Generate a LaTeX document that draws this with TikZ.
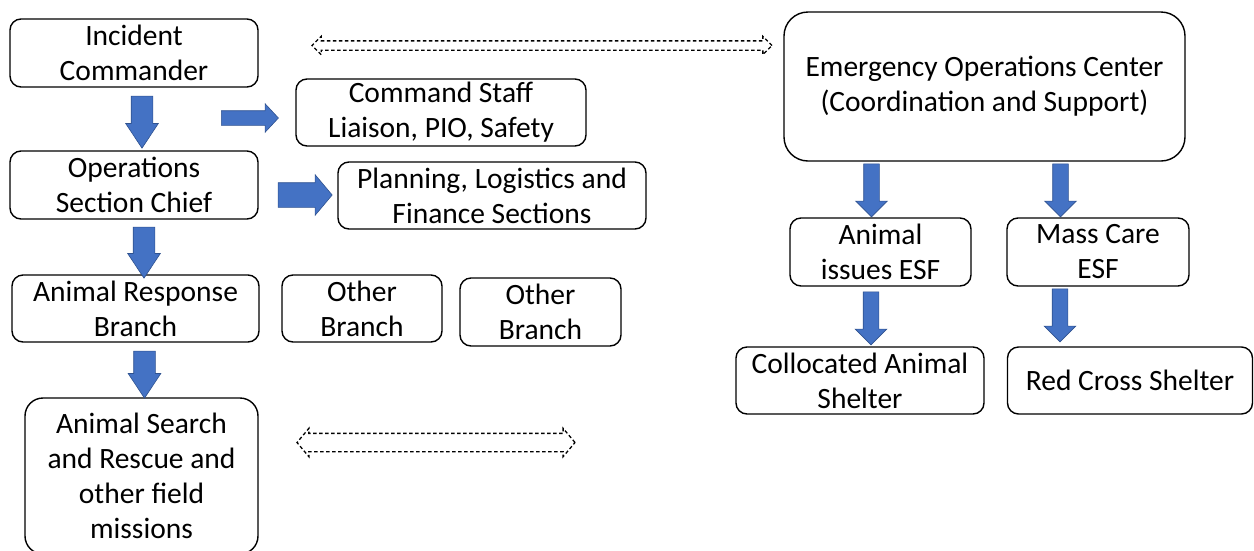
\documentclass[tikz,border=0pt]{standalone}
\usepackage{fontspec}
\setmainfont{Carlito}
\usepackage{tikz}
\usetikzlibrary{shapes,shapes.arrows}
\definecolor{arrowblue}{HTML}{4472C4}
\definecolor{arrowedge}{HTML}{2F528F}

\begin{document}
\begin{tikzpicture}[x=1pt, y=1pt]

\tikzstyle{block} = [rectangle, draw, line width=1.4pt, rounded corners=11pt,
    font=\fontsize{29.5}{35}\selectfont, align=center, inner sep=0pt,
    minimum width=248pt, minimum height=68pt]
\tikzstyle{down} = [single arrow, draw=arrowedge, fill=arrowblue, line width=0.6pt,
    shape border rotate=270, inner sep=10.5pt, minimum width=32pt,
    single arrow head extend=5.5pt, single arrow tip angle=67, single arrow head indent=0pt]
\tikzstyle{esfdown} = [down, inner sep=7.5pt, minimum width=31pt, minimum height=53pt,
    single arrow head extend=8pt, single arrow tip angle=90]
\tikzstyle{right} = [single arrow, draw=arrowedge, fill=arrowblue, line width=0.6pt,
    single arrow head indent=0pt]
\tikzstyle{link} = [double arrow, draw=black, line width=1.3pt,
    dash pattern=on 3.5pt off 2.5pt, double arrow head indent=0pt]

    \useasboundingbox (0,0) rectangle (1254,-550);

    % Left side: incident command
    \node [block] at (134,-53) (ic) {Incident\\Commander};
    \node [block, below of=ic, node distance=132pt] (osc) {Operations\\Section Chief};
    \node [block, below of=osc, node distance=123.5pt, xshift=1.5pt, minimum width=247pt, minimum height=67pt] (arb) {Animal Response\\Branch};
    \node [block, below of=arb, node distance=167.5pt, xshift=6pt, minimum width=233pt, minimum height=156pt, rounded corners=18pt] (asar) {Animal Search\\and Rescue and\\other field\\missions};
    \node [block, right of=ic, node distance=307pt, yshift=-59.5pt, minimum width=290pt, minimum height=67pt] (cstaff) {Command Staff\\Liaison, PIO, Safety};
    \node [block, right of=osc, node distance=358pt, yshift=-10.5pt, minimum width=308pt, minimum height=67pt] (plan) {Planning, Logistics and\\Finance Sections};
    \node [block, right of=arb, node distance=226.5pt, minimum width=160pt, minimum height=67pt] (oth1) {Other\\Branch};
    \node [block, right of=oth1, node distance=178.5pt, yshift=-3.5pt, minimum width=161pt] (oth2) {Other\\Branch};

    % Right side: emergency operations center
    \node [block, minimum width=401pt, minimum height=149pt, rounded corners=24pt] at (984.5,-86.5) (eoc) {Emergency Operations Center\\(Coordination and Support)};
    \node [block, below of=eoc, node distance=165.5pt, xshift=-104pt, minimum width=181pt] (aesf) {Animal\\issues ESF};
    \node [block, right of=aesf, node distance=217.5pt, minimum width=182pt] (mcesf) {Mass Care\\ESF};
    \node [block, below of=aesf, node distance=128.5pt, xshift=-20.5pt, minimum height=67pt] (cas) {Collocated Animal\\Shelter};
    \node [block, right of=cas, node distance=270pt, minimum width=245pt, minimum height=67pt] (rcs) {Red Cross Shelter};

    % Blue arrows
    \node [down, minimum height=52pt] at (142,-114) (icdown) {};
    \node [down, minimum height=51pt] at (144,-244.5) (oscdown) {};
    \node [down, minimum height=47pt] at (144.5,-366.5) (arbdown) {};
    \node [right, minimum height=57pt, minimum width=28pt, inner sep=7pt,
        single arrow head extend=7pt, single arrow tip angle=94] at (246.5,-118) (icright) {};
    \node [right, minimum height=54pt, minimum width=40pt, inner sep=12pt,
        single arrow head extend=8pt, single arrow tip angle=100] at (300,-195) (oscright) {};
    \node [esfdown] at (871.5,-186.5) (eocleft) {};
    \node [esfdown] at (1060.5,-186.5) (eocright) {};
    \node [esfdown] at (871,-314.5) (aesfdown) {};
    \node [esfdown] at (1060,-311.5) (mcesfdown) {};

    % Dashed links
    \node [link, minimum height=460pt, minimum width=17pt, inner sep=4pt,
        double arrow head extend=4.5pt, double arrow tip angle=90] at (542,-45.5) (toplink) {};
    \node [link, minimum height=278pt, minimum width=27pt, inner sep=8.5pt,
        double arrow head extend=5pt, double arrow tip angle=100] at (436,-442.5) (botlink) {};
\end{tikzpicture}
\end{document}
